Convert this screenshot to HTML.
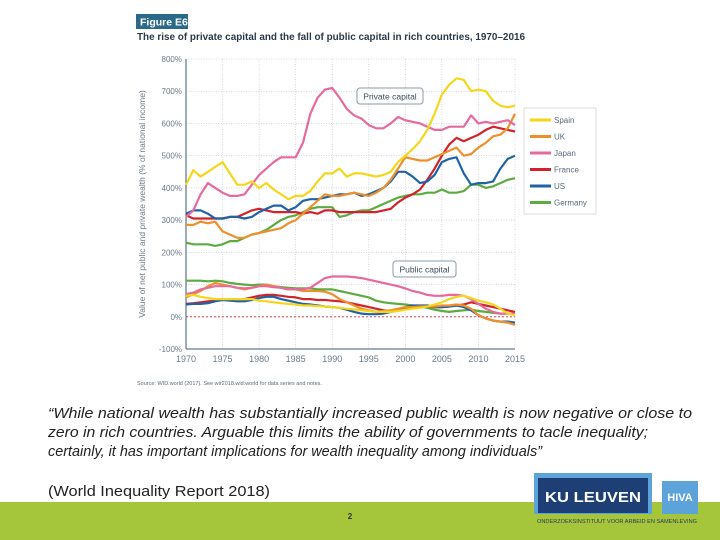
<!DOCTYPE html>
<html><head><meta charset="utf-8"><style>
html,body{margin:0;padding:0;background:#fff}
svg{display:block}
text{font-family:"Liberation Sans",sans-serif}
</style></head><body>
<svg id="s" width="720" height="540" viewBox="0 0 720 540">
<rect x="0" y="502" width="720" height="38" fill="#a5c63b"/>
<rect x="136" y="14" width="52" height="15" fill="#2a6a88"/>
<text x="140" y="25.5" font-size="10.5" font-weight="bold" fill="#fff">Figure E6</text>
<text x="137" y="40" font-size="10" font-weight="bold" fill="#2a3a48" textLength="388" lengthAdjust="spacingAndGlyphs">The rise of private capital and the fall of public capital in rich countries, 1970–2016</text>
<g id="grid"></g>
<g id="axes"></g>
<text transform="translate(145,204) rotate(-90)" text-anchor="middle" font-size="8.5" fill="#6a7a8a">Value of net public and private wealth (% of national income)</text>
<g id="series"></g>
<rect x="357" y="88" width="66" height="16" rx="3" fill="#fff" stroke="#8a9aa8"/>
<text x="390" y="99.5" text-anchor="middle" font-size="8.5" fill="#3a4a5a">Private capital</text>
<rect x="393" y="261" width="63" height="16" rx="3" fill="#fff" stroke="#8a9aa8"/>
<text x="424.5" y="272.5" text-anchor="middle" font-size="8.5" fill="#3a4a5a">Public capital</text>
<rect x="524" y="108" width="72" height="106" fill="#fff" stroke="#d8dde2"/>
<g id="legend"></g>
<text x="137" y="385" font-size="5.5" fill="#5a6a7a">Source: WID.world (2017). See wir2018.wid.world for data series and notes.</text>
<g font-size="15" font-style="italic" fill="#222">
<text x="48" y="418" textLength="644" lengthAdjust="spacingAndGlyphs">“While national wealth has substantially increased public wealth is now negative or close to</text>
<text x="48" y="437" textLength="600" lengthAdjust="spacingAndGlyphs">zero in rich countries. Arguable this limits the ability of governments to tacle inequality;</text>
<text x="48" y="456" textLength="494" lengthAdjust="spacingAndGlyphs">certainly, it has important implications for wealth inequality among individuals”</text>
</g>
<text x="48" y="496" font-size="15" fill="#222" textLength="222" lengthAdjust="spacingAndGlyphs">(World Inequality Report 2018)</text>
<text x="350" y="519" font-size="8" font-weight="bold" fill="#333" text-anchor="middle">2</text>
<g>
<rect x="534" y="473" width="118" height="41" fill="#5ba3d9"/>
<rect x="538" y="478" width="110" height="35" fill="#1d3f75"/>
<text x="593" y="502" text-anchor="middle" font-size="15" font-weight="bold" fill="#fff" textLength="96" lengthAdjust="spacingAndGlyphs">KU LEUVEN</text>
</g>
<g>
<rect x="662" y="481" width="36" height="33" fill="#5ba3d9"/>
<text x="680" y="501" text-anchor="middle" font-size="11" font-weight="bold" fill="#fff">HIVA</text>
</g>
<text x="537" y="523" font-size="5" fill="#2a3a5a" textLength="160" lengthAdjust="spacingAndGlyphs">ONDERZOEKSINSTITUUT VOOR ARBEID EN SAMENLEVING</text>
</svg>
<script>
const years=[];for(let y=1970;y<=2015;y++)years.push(y);
const yTicks=[800,700,600,500,400,300,200,100,0,-100];
const xTicks=[1970,1975,1980,1985,1990,1995,2000,2005,2010,2015];
const countries=["Spain","UK","Japan","France","US","Germany"];
const colors=["#f6d61a","#ef8f2a","#e6699f","#d2222c","#1f63a6","#5cab40"];
const spainPrivate=[410,455,435,450,465,480,445,410,410,420,400,415,395,380,365,375,375,390,420,445,445,460,435,445,445,440,435,440,450,480,500,520,545,580,630,690,720,740,735,700,705,700,670,655,650,655];
const ukPrivate=[285,285,295,290,295,265,255,245,245,255,260,265,270,275,290,300,320,340,360,380,375,375,380,385,380,375,385,400,425,460,495,490,485,485,495,505,515,525,500,505,525,540,560,565,585,630];
const japanPrivate=[310,330,380,415,400,385,375,375,380,410,440,460,480,495,495,495,540,630,680,705,710,680,645,625,615,595,585,585,600,620,610,605,600,590,580,580,590,590,590,625,600,605,600,605,610,595];
const francePrivate=[315,305,305,305,305,305,310,310,320,330,335,330,325,325,325,325,320,325,320,330,330,325,325,325,325,325,325,330,335,355,370,380,395,425,460,500,535,555,545,555,565,580,590,585,580,575];
const usPrivate=[320,330,330,320,305,305,310,310,305,310,325,335,345,345,330,340,360,365,365,370,375,380,380,385,375,380,390,400,420,450,450,435,415,420,440,480,490,495,445,410,415,415,420,460,490,500];
const germanyPrivate=[230,225,225,225,220,225,235,235,245,255,260,270,285,300,310,315,325,335,340,340,340,310,315,325,330,330,340,350,360,370,375,380,380,385,385,395,385,385,390,410,410,400,405,415,425,430];
const spainPublic=[65,68,62,58,55,55,55,55,55,55,50,48,45,42,40,38,35,35,33,32,30,28,25,23,20,18,15,15,15,18,22,25,28,32,38,45,55,62,65,58,50,45,38,25,10,5];
const ukPublic=[60,70,80,95,105,100,95,90,85,90,95,100,95,90,85,85,80,80,80,78,70,55,45,35,25,20,15,18,20,25,30,30,32,32,32,35,35,38,35,25,5,-5,-12,-15,-18,-25];
const japanPublic=[70,75,85,90,95,95,95,90,88,90,95,95,92,90,85,85,85,90,105,120,125,125,125,123,120,115,110,105,100,95,88,80,75,68,65,65,68,68,65,55,40,25,15,10,10,10];
const francePublic=[40,42,45,48,50,55,55,55,55,60,65,68,68,65,62,60,55,55,52,52,50,48,45,40,35,30,25,20,18,22,28,30,32,32,30,30,32,35,38,45,40,35,30,25,20,15];
const usPublic=[38,40,40,42,48,52,50,48,48,52,58,62,62,55,50,45,40,38,35,32,30,28,22,15,10,8,8,10,15,20,30,35,35,35,30,30,32,35,30,20,5,-5,-12,-15,-15,-18];
const germanyPublic=[112,112,112,110,112,110,105,102,100,98,100,100,95,92,90,88,88,88,85,85,85,80,75,70,65,60,50,45,42,40,38,35,32,28,22,18,15,18,20,22,18,15,12,10,10,10];

const NS="http://www.w3.org/2000/svg";
const X0=186,X1=515,Y0=59,Y1=349;
const xs=y=>X0+(y-1970)/(2015-1970)*(X1-X0);
const ys=v=>Y0+(800-v)/900*(Y1-Y0);
function mk(t,a,p){const e=document.createElementNS(NS,t);for(const k in a)e.setAttribute(k,a[k]);p.appendChild(e);return e;}
const grid=document.getElementById('grid'),axes=document.getElementById('axes'),ser=document.getElementById('series'),leg=document.getElementById('legend');
yTicks.forEach(v=>{
 const l=mk('line',{x1:X0,x2:X1,y1:ys(v),y2:ys(v),stroke:'#b8c0c8','stroke-width':0.6,'stroke-dasharray':'1,1.5'},grid);
 
 
 const t=mk('text',{x:X0-4,y:ys(v)+3,'text-anchor':'end','font-size':8,fill:'#6a7a8a'},axes);t.textContent=v+'%';
 
 
});
xTicks.forEach(y=>{
 const l=mk('line',{x1:xs(y),x2:xs(y),y1:Y0,y2:Y1,stroke:'#b8c0c8','stroke-width':0.6,'stroke-dasharray':'1,1.5'},grid);
 
 
 const t=mk('text',{x:xs(y),y:Y1+13,'text-anchor':'middle','font-size':9,fill:'#6a7a8a'},axes);t.textContent=y;
 
 
});
mk('line',{x1:X0,x2:X0,y1:Y0,y2:Y1,stroke:'#3a5a7a','stroke-width':1},axes);
mk('line',{x1:X0,x2:X1,y1:Y1,y2:Y1,stroke:'#3a5a7a','stroke-width':1},axes);
const zl=mk('line',{x1:X0,x2:X1,y1:ys(0),y2:ys(0),stroke:'#d22a3a','stroke-width':0.9,'stroke-dasharray':'2,2'},axes);


const priv=[spainPrivate,ukPrivate,japanPrivate,francePrivate,usPrivate,germanyPrivate];
const pub=[spainPublic,ukPublic,japanPublic,francePublic,usPublic,germanyPublic];
const order=[5,3,4,1,2,0];
function line(arr,c,name){
 const d=arr.map((v,i)=>(i?'L':'M')+xs(years[i]).toFixed(1)+','+ys(v).toFixed(1)).join('');
 const p=mk('path',{d:d,fill:'none',stroke:c,'stroke-width':2.2,'stroke-linejoin':'round'},ser);
 
 
}
order.forEach(i=>line(pub[i],colors[i],countries[i].toLowerCase()+'-public-line'));
order.forEach(i=>line(priv[i],colors[i],countries[i].toLowerCase()+'-private-line'));
countries.forEach((c,i)=>{
 const y=120+i*16.5;
 const l=mk('line',{x1:530,x2:551,y1:y,y2:y,stroke:colors[i],'stroke-width':3},leg);
 
 
 const t=mk('text',{x:554,y:y+3,'font-size':8,fill:'#5a6a7a'},leg);t.textContent=c;
 
 
});
</script>
</body></html>
